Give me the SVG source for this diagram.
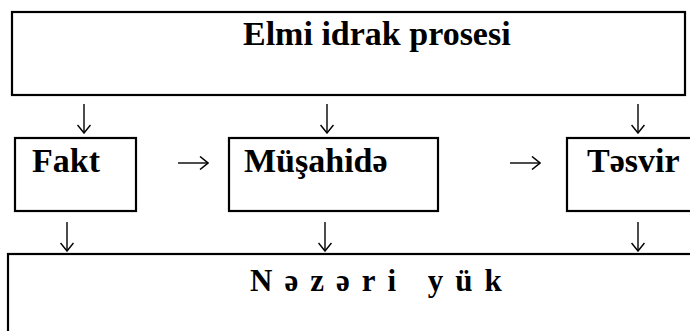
<svg xmlns="http://www.w3.org/2000/svg" width="690" height="331" viewBox="0 0 690 331">
<defs>
<style>
.box{fill:#fff;stroke:#000;stroke-width:2.2}
.lbl{font-family:"Liberation Serif","Times New Roman",serif;font-weight:bold;font-size:34px;fill:#000}
.ln{stroke:#000;stroke-width:1.4;fill:none}
</style>
<marker id="ah" viewBox="0 0 10 14" refX="9" refY="7" markerWidth="10" markerHeight="14" markerUnits="userSpaceOnUse" orient="auto">
<path d="M1,0.5 L9,7 L1,13.5" fill="none" stroke="#000" stroke-width="1.5"/>
</marker>
</defs>
<rect width="690" height="331" fill="#fff"/>
<g id="elmi">
<rect class="box" x="12" y="12" width="673" height="83"/>
<text class="lbl" x="243" y="45">Elmi idrak prosesi</text>
</g>
<g id="fakt">
<rect class="box" x="15" y="138" width="121" height="73"/>
<text class="lbl" x="32" y="172">Fakt</text>
</g>
<g id="musahide">
<rect class="box" x="229" y="138" width="209" height="73"/>
<text class="lbl" x="244" y="172">Müşahidə</text>
</g>
<g id="tesvir">
<rect class="box" x="567" y="138" width="130" height="73"/>
<text class="lbl" x="587" y="172">Təsvir</text>
</g>
<g id="nezeri">
<rect class="box" x="8" y="254" width="690" height="90"/>
<text class="lbl" x="250" y="291" style="font-size:31px;letter-spacing:12px">Nəzəri yük</text>
</g>
<g id="connectors">
<line class="ln" x1="84" y1="104" x2="84" y2="133" marker-end="url(#ah)"/>
<line class="ln" x1="327" y1="104" x2="327" y2="133" marker-end="url(#ah)"/>
<line class="ln" x1="638" y1="104" x2="638" y2="133" marker-end="url(#ah)"/>
<line class="ln" x1="178" y1="163" x2="208" y2="163" marker-end="url(#ah)"/>
<line class="ln" x1="510" y1="163" x2="540" y2="163" marker-end="url(#ah)"/>
<line class="ln" x1="67" y1="222" x2="67" y2="251" marker-end="url(#ah)"/>
<line class="ln" x1="325" y1="222" x2="325" y2="251" marker-end="url(#ah)"/>
<line class="ln" x1="638" y1="222" x2="638" y2="251" marker-end="url(#ah)"/>
</g>
</svg>
